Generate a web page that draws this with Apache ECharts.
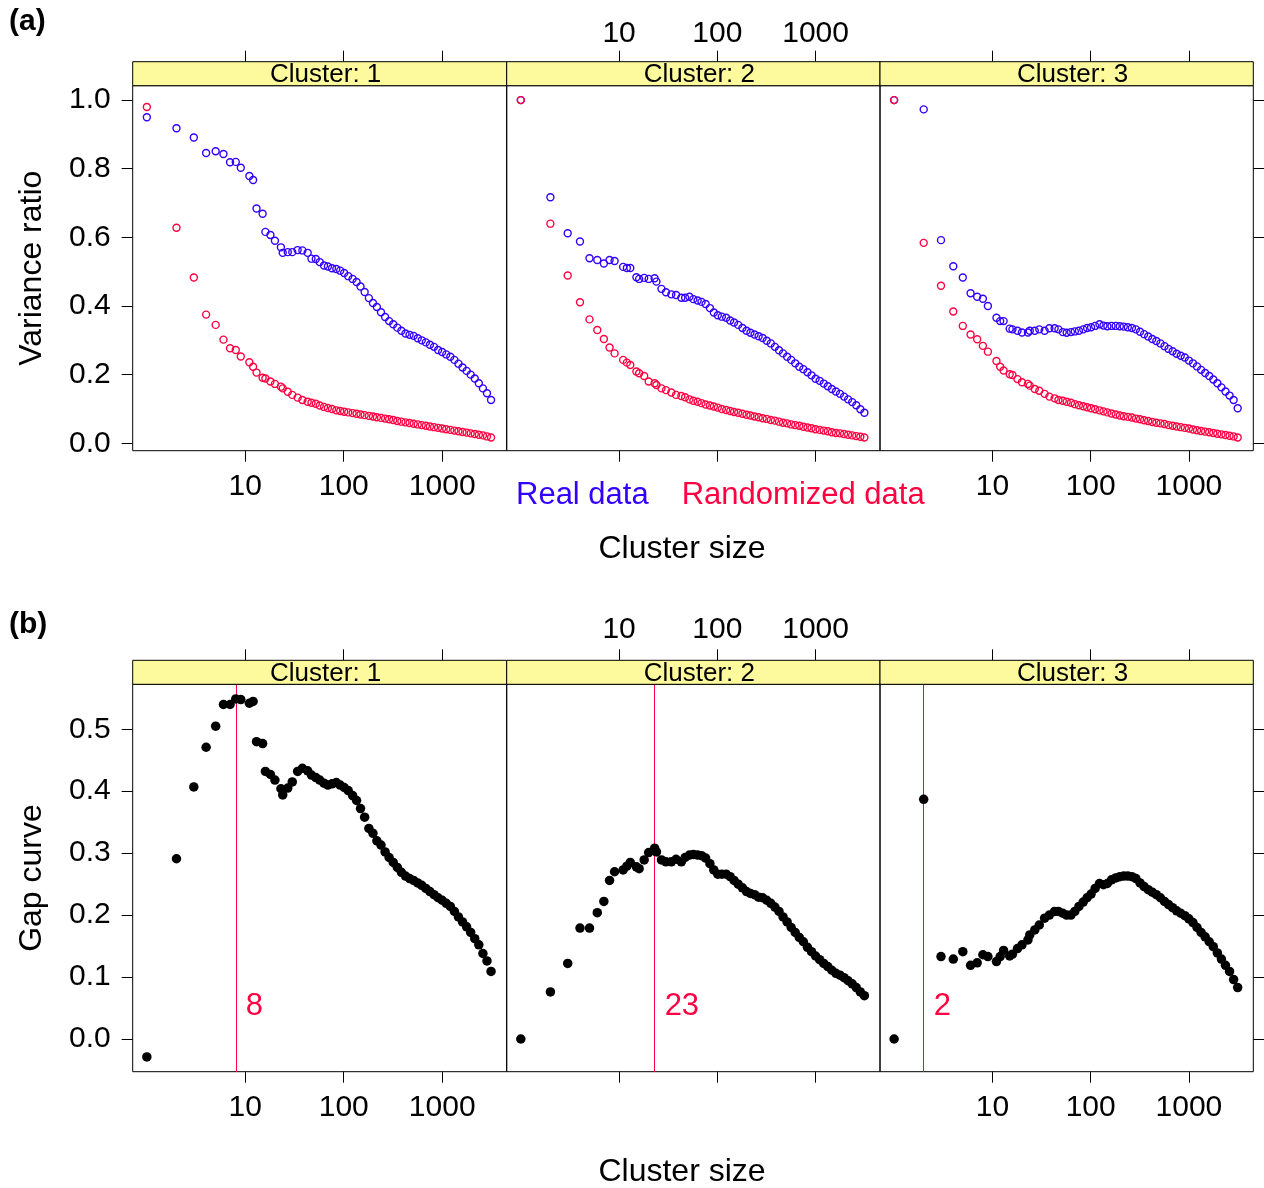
<!DOCTYPE html>
<html>
<head>
<meta charset="utf-8">
<script src="https://cdn.jsdelivr.net/npm/echarts@6/dist/echarts.min.js"></script>
<style>
html,body{margin:0;padding:0;background:#fff;}
#chart{width:1264px;height:1188px;}
</style>
</head>
<body>
<div id="chart"></div>
<script>
// ---------------- data ----------------
const sizes = [1,2,3,4,5,6,7,8,9,
  11,12,13,15,16,18,20,23,24,
  27,30,34,38,43,47,52,57,63,69,
  76,84,92,101,111,123,135,148,163,180,
  198,217,239,263,289,318,350,385,424,466,
  513,564,620,682,750,826,908,999,1099,1209,
  1330,1462,1609,1770,1947,2141,2355,2591,2850,3135];

const clusterNames = ['Cluster: 1', 'Cluster: 2', 'Cluster: 3'];

const realC1 = [0.950,0.918,0.891,0.846,0.851,0.843,0.819,0.820,0.803,
  0.779,0.767,0.684,0.669,0.616,0.607,0.590,0.571,0.555,
  0.557,0.557,0.563,0.562,0.555,0.538,0.537,0.528,0.518,0.515,
  0.510,0.508,0.503,0.496,0.487,0.479,0.470,0.457,0.441,0.423,
  0.409,0.397,0.382,0.368,0.356,0.347,0.337,0.328,0.320,0.316,
  0.313,0.306,0.300,0.294,0.287,0.281,0.272,0.266,0.259,0.252,
  0.243,0.232,0.221,0.211,0.200,0.189,0.175,0.160,0.146,0.126];
const randC1 = [0.980,0.628,0.483,0.375,0.345,0.302,0.277,0.272,0.253,
  0.236,0.223,0.206,0.191,0.189,0.180,0.173,0.165,0.160,
  0.150,0.141,0.133,0.126,0.121,0.118,0.115,0.110,0.106,0.103,
  0.100,0.096,0.094,0.092,0.090,0.088,0.086,0.084,0.082,0.080,
  0.078,0.076,0.074,0.072,0.070,0.068,0.065,0.063,0.061,0.059,
  0.057,0.055,0.053,0.051,0.049,0.047,0.045,0.043,0.041,0.039,
  0.037,0.035,0.033,0.031,0.029,0.027,0.025,0.023,0.020,0.017];
const realC2 = [1.000,0.717,0.612,0.588,0.539,0.534,0.524,0.534,0.531,
  0.514,0.511,0.511,0.484,0.479,0.482,0.479,0.481,0.471,
  0.450,0.440,0.434,0.432,0.424,0.424,0.427,0.420,0.416,0.412,
  0.406,0.394,0.381,0.373,0.369,0.366,0.358,0.352,0.345,0.336,
  0.328,0.322,0.317,0.312,0.307,0.299,0.291,0.281,0.271,0.262,
  0.252,0.243,0.233,0.223,0.216,0.207,0.198,0.188,0.182,0.174,
  0.166,0.158,0.151,0.144,0.136,0.128,0.120,0.111,0.099,0.089];
const randC2 = [1.000,0.640,0.489,0.411,0.361,0.330,0.304,0.279,0.262,
  0.243,0.235,0.228,0.209,0.204,0.196,0.180,0.175,0.170,
  0.160,0.155,0.148,0.141,0.138,0.134,0.128,0.124,0.121,0.117,
  0.113,0.110,0.107,0.104,0.100,0.097,0.094,0.091,0.089,0.086,
  0.083,0.081,0.078,0.076,0.073,0.071,0.068,0.066,0.063,0.060,
  0.058,0.055,0.053,0.051,0.048,0.046,0.044,0.041,0.039,0.037,
  0.035,0.032,0.030,0.029,0.027,0.025,0.023,0.021,0.019,0.017];
const realC3 = [1.000,0.973,0.592,0.516,0.483,0.437,0.427,0.421,0.400,
  0.366,0.356,0.356,0.334,0.332,0.328,0.323,0.323,0.328,
  0.328,0.332,0.328,0.335,0.335,0.332,0.324,0.322,0.324,0.326,
  0.328,0.332,0.336,0.338,0.342,0.347,0.343,0.341,0.342,0.342,
  0.341,0.340,0.338,0.336,0.332,0.325,0.318,0.311,0.304,0.298,
  0.291,0.283,0.275,0.268,0.261,0.255,0.250,0.241,0.233,0.224,
  0.214,0.205,0.196,0.186,0.175,0.163,0.151,0.139,0.126,0.102];
const randC3 = [1.000,0.584,0.459,0.384,0.342,0.317,0.303,0.284,0.267,
  0.240,0.223,0.212,0.201,0.199,0.187,0.178,0.173,0.168,
  0.158,0.153,0.144,0.136,0.131,0.126,0.124,0.121,0.118,0.114,
  0.111,0.108,0.105,0.102,0.099,0.096,0.093,0.090,0.087,0.084,
  0.081,0.079,0.077,0.075,0.072,0.070,0.067,0.065,0.062,0.060,
  0.058,0.056,0.053,0.051,0.049,0.047,0.045,0.043,0.040,0.038,
  0.036,0.034,0.032,0.030,0.028,0.026,0.024,0.022,0.020,0.017];
const gapC1 = [-0.029,0.291,0.407,0.471,0.505,0.540,0.540,0.549,0.548,
  0.542,0.545,0.480,0.477,0.432,0.427,0.418,0.404,0.394,
  0.405,0.415,0.432,0.437,0.433,0.426,0.422,0.418,0.413,0.410,
  0.412,0.414,0.410,0.406,0.401,0.393,0.385,0.372,0.358,0.340,
  0.332,0.320,0.313,0.302,0.293,0.285,0.277,0.269,0.263,0.259,
  0.256,0.252,0.248,0.243,0.238,0.233,0.228,0.224,0.219,0.214,
  0.206,0.197,0.189,0.181,0.172,0.162,0.152,0.138,0.126,0.109];
const gapC2 = [0.000,0.076,0.122,0.179,0.179,0.204,0.222,0.256,0.270,
  0.273,0.279,0.285,0.278,0.275,0.289,0.301,0.308,0.302,
  0.289,0.286,0.286,0.290,0.286,0.293,0.297,0.298,0.297,0.296,
  0.292,0.283,0.273,0.266,0.266,0.266,0.262,0.256,0.250,0.244,
  0.238,0.235,0.233,0.229,0.228,0.224,0.219,0.213,0.206,0.197,
  0.189,0.180,0.172,0.164,0.157,0.148,0.141,0.134,0.128,0.122,
  0.117,0.111,0.106,0.103,0.099,0.094,0.089,0.083,0.076,0.070];
const gapC3 = [0.000,0.387,0.133,0.129,0.141,0.119,0.123,0.136,0.133,
  0.125,0.133,0.143,0.134,0.137,0.146,0.152,0.160,0.168,
  0.176,0.184,0.195,0.200,0.206,0.206,0.203,0.200,0.200,0.206,
  0.214,0.221,0.228,0.234,0.243,0.251,0.249,0.251,0.257,0.260,
  0.262,0.263,0.263,0.262,0.259,0.252,0.246,0.241,0.237,0.233,
  0.228,0.222,0.217,0.212,0.207,0.203,0.199,0.194,0.188,0.180,
  0.172,0.165,0.157,0.149,0.139,0.129,0.119,0.109,0.096,0.083];

const cutoffs = [8, 23, 2];
const xTickValues = [10, 100, 1000];
const ratioTicks = [0, 0.2, 0.4, 0.6, 0.8, 1.0];
const gapTicks = [0, 0.1, 0.2, 0.3, 0.4, 0.5];

// ---------------- layout & style ----------------
const FONT = '"Liberation Sans", Arial, Helvetica, sans-serif';
const BLUE = '#3300FF';
const RED = '#FF0040';
const STRIP = '#FCFA9C';
const STRIP_H = 24;
const XMIN = 0.7183, XMAX = 4520;

const COLS = [
  {left: 132.7, width: 374},
  {left: 506.7, width: 373.3},
  {left: 880, width: 373.3}
];
const ROWS = [
  {top: 85.7, height: 365, ymin: -0.0216, ymax: 1.042, ticks: ratioTicks, title: 'Variance ratio',
   xTitleY: 549, tag: '(a)', tagY: 22, topMargin: 13},
  {top: 684.3, height: 387.4, ymin: -0.0528, ymax: 0.5726, ticks: gapTicks, title: 'Gap curve',
   xTitleY: 1172, tag: '(b)', tagY: 625, topMargin: 15.5}
];

const realData = [realC1, realC2, realC3];
const randData = [randC1, randC2, randC3];
const gapData = [gapC1, gapC2, gapC3];

const grids = [], xAxes = [], yAxes = [], series = [], graphics = [];

ROWS.forEach((row, r) => {
  COLS.forEach((col, c) => {
    const g = r * 3 + c;
    grids.push({
      left: col.left, top: row.top, width: col.width, height: row.height,
      show: true, borderColor: '#000', borderWidth: 1, backgroundColor: 'transparent'
    });
    const xBase = {
      type: 'log', gridIndex: g, min: XMIN, max: XMAX, logBase: 10,
      axisLine: {show: false, onZero: false}, splitLine: {show: false}, minorTick: {show: false},
      axisTick: {show: true, inside: false, length: 11, customValues: xTickValues,
        lineStyle: {color: '#000', width: 1}},
    };
    xAxes.push(Object.assign({}, xBase, {
      position: 'bottom',
      axisLabel: {show: c !== 1, customValues: xTickValues, fontSize: 30, color: '#000',
        fontFamily: FONT, margin: 21.5, formatter: v => String(Math.round(v))}
    }));
    xAxes.push(Object.assign({}, xBase, {
      position: 'top', offset: STRIP_H,
      axisLabel: {show: c === 1, customValues: xTickValues, fontSize: 30, color: '#000',
        fontFamily: FONT, margin: row.topMargin, formatter: v => String(Math.round(v))}
    }));
    yAxes.push({
      type: 'value', gridIndex: g, min: row.ymin, max: row.ymax, position: 'left',
      axisLine: {show: false, onZero: false}, splitLine: {show: false},
      axisTick: {show: c === 0, inside: false, length: 11, customValues: row.ticks,
        lineStyle: {color: '#000', width: 1}},
      axisLabel: {show: c === 0, customValues: row.ticks, fontSize: 30, color: '#000',
        fontFamily: FONT, margin: 22, formatter: v => v.toFixed(1)},
      name: c === 0 ? row.title : '', nameLocation: 'middle', nameRotate: 90, nameGap: 85,
      nameTextStyle: {fontSize: 32, fontFamily: FONT, color: '#000'}
    });
    // strip
    graphics.push({
      type: 'rect', z: 10,
      shape: {x: col.left, y: row.top - STRIP_H, width: col.width, height: STRIP_H},
      style: {fill: STRIP, stroke: '#000', lineWidth: 1}
    });
    graphics.push({
      type: 'text', z: 11, x: col.left + col.width / 2 + 6, y: row.top - STRIP_H / 2 + 1.5,
      style: {text: clusterNames[c], font: '26px ' + FONT, fill: '#000',
        textAlign: 'center', textVerticalAlign: 'middle'}
    });
  });
  graphics.push({
    type: 'text', z: 11, x: 682, y: row.xTitleY,
    style: {text: 'Cluster size', font: '32px ' + FONT, fill: '#000',
      textAlign: 'center', textVerticalAlign: 'middle'}
  });
  graphics.push({
    type: 'text', z: 11, x: 9, y: row.tagY,
    style: {text: row.tag, font: 'bold 30px ' + FONT, fill: '#000',
      textAlign: 'left', textVerticalAlign: 'middle'}
  });
});

// right-side y ticks for the third column
ROWS.forEach((row, r) => {
  const g = r * 3 + 2;
  yAxes.push({
    type: 'value', gridIndex: g, min: row.ymin, max: row.ymax, position: 'right',
    axisLine: {show: false, onZero: false}, splitLine: {show: false},
    axisTick: {show: true, inside: false, length: 11, customValues: row.ticks,
      lineStyle: {color: '#000', width: 1}},
    axisLabel: {show: false}
  });
});

for (let c = 0; c < 3; c++) {
  series.push({
    name: 'Real data', type: 'scatter', xAxisIndex: 2 * c, yAxisIndex: c, z: 2,
    symbol: 'circle', symbolSize: 7,
    itemStyle: {color: 'rgba(0,0,0,0)', borderColor: BLUE, borderWidth: 1.4, opacity: 1},
    data: sizes.map((s, i) => [s, realData[c][i]])
  });
  series.push({
    name: 'Randomized data', type: 'scatter', xAxisIndex: 2 * c, yAxisIndex: c, z: 3,
    symbol: 'circle', symbolSize: 7,
    itemStyle: {color: 'rgba(0,0,0,0)', borderColor: RED, borderWidth: 1.4, opacity: 1},
    data: sizes.map((s, i) => [s, randData[c][i]])
  });
  const g = 3 + c;
  series.push({
    name: 'Gap', type: 'scatter', xAxisIndex: 2 * g, yAxisIndex: g, z: 3,
    symbol: 'circle', symbolSize: 9.5,
    itemStyle: {color: '#000', opacity: 1},
    data: sizes.map((s, i) => [s, gapData[c][i]]),
    markLine: {
      silent: true, symbol: ['none', 'none'], animation: false, z: 2,
      lineStyle: {color: RED, width: 1, type: 'solid', opacity: 1},
      label: {show: false},
      emphasis: {disabled: true},
      data: [{xAxis: cutoffs[c]}]
    }
  });
  series.push({
    name: 'Cutoff', type: 'scatter', xAxisIndex: 2 * g, yAxisIndex: g, z: 4,
    symbolSize: 0, silent: true,
    itemStyle: {opacity: 1},
    label: {show: true, position: 'right', distance: 10, formatter: String(cutoffs[c]),
      color: RED, fontSize: 31, fontFamily: FONT},
    data: [[cutoffs[c], 0.052]]
  });
}

const chart = echarts.init(document.getElementById('chart'), null, {renderer: 'canvas'});
chart.setOption({
  animation: false,
  backgroundColor: '#fff',
  textStyle: {fontFamily: FONT},
  legend: {
    data: [
      {name: 'Real data', textStyle: {color: BLUE}},
      {name: 'Randomized data', textStyle: {color: RED}}
    ],
    icon: 'none', itemWidth: 0, itemHeight: 30, itemGap: 28,
    left: 511, top: 480, padding: 0, selectedMode: false,
    textStyle: {fontSize: 31, fontFamily: FONT}
  },
  grid: grids,
  xAxis: xAxes,
  yAxis: yAxes,
  series: series,
  graphic: {elements: graphics}
});
</script>
</body>
</html>
